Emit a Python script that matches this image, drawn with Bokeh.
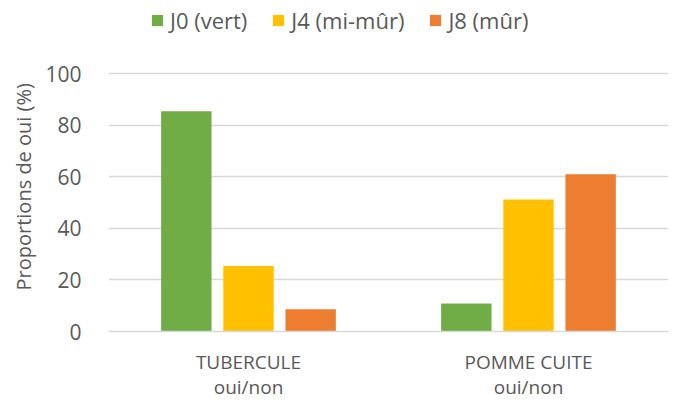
from bokeh.plotting import figure
from bokeh.models import ColumnDataSource, Legend, LegendItem, FactorRange, Range1d, Title
from bokeh.transform import dodge
from bokeh.embed import file_html
from bokeh.resources import INLINE

categories = ["TUBERCULE\noui/non", "POMME CUITE\noui/non"]
series_names = ["J0 (vert)", "J4 (mi-mûr)", "J8 (mûr)"]
j0_vert = [85.4, 10.9]
j4_mi_mur = [25.4, 51.2]
j8_mur = [8.6, 61.0]
colors = ["#70AD47", "#FFC000", "#ED7D31"]
y_ticks = [0, 20, 40, 60, 80, 100]

FONT = "Open Sans"
TXT = "#595959"

source = ColumnDataSource(data=dict(cat=categories, j0=j0_vert, j4=j4_mi_mur, j8=j8_mur))

p = figure(x_range=FactorRange(*categories), y_range=Range1d(0, 128.3),
           width=678, height=402, output_backend="svg", toolbar_location=None,
           min_border_left=108, min_border_right=10, min_border_top=0, min_border_bottom=71)

offsets = [-0.222, 0.0, 0.222]
renderers = []
for key, off, col in zip(["j0", "j4", "j8"], offsets, colors):
    r = p.vbar(x=dodge("cat", off, range=p.x_range), top=key, width=0.18, source=source,
               fill_color=col, line_color=None)
    renderers.append(r)

legend = Legend(items=[LegendItem(label=n, renderers=[r]) for n, r in zip(series_names, renderers)],
                orientation="horizontal", location=(42, 296))
legend.label_text_font = FONT
legend.label_text_font_size = "22px"
legend.label_text_color = TXT
legend.glyph_width = 14
legend.glyph_height = 14
legend.spacing = 24
legend.label_standoff = 6
legend.border_line_color = None
legend.background_fill_alpha = 0
legend.padding = 0
legend.margin = 0
p.add_layout(legend, "center")

p.outline_line_color = None
p.xgrid.grid_line_color = None
p.ygrid.grid_line_color = "#D9D9D9"
p.ygrid.grid_line_width = 1.5
p.yaxis.ticker = y_ticks
p.yaxis.axis_line_color = None
p.yaxis.major_tick_line_color = None
p.yaxis.minor_tick_line_color = None
p.yaxis.major_label_text_font = FONT
p.yaxis.major_label_text_font_size = "21px"
p.yaxis.major_label_text_color = TXT
p.yaxis.major_label_standoff = 21

ytitle = Title(text="Proportions de oui (%)", align="left", offset=41,
               text_font=FONT, text_font_size="20px", text_font_style="normal",
               text_color=TXT, standoff=11)
p.add_layout(ytitle, "left")

p.xaxis.axis_line_color = "#D9D9D9"
p.xaxis.axis_line_width = 1.5
p.xaxis.major_tick_line_color = None
p.xaxis.minor_tick_line_color = None
p.xaxis.major_label_text_font = FONT
p.xaxis.major_label_text_font_size = "19px"
p.xaxis.major_label_text_color = TXT
p.xaxis.major_label_text_line_height = 0.97
p.xaxis.major_label_standoff = 11

open("out.html", "w").write(file_html(p, INLINE))
